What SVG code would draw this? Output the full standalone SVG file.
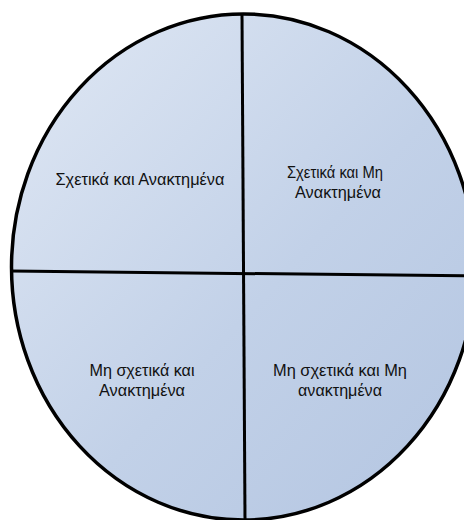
<svg xmlns="http://www.w3.org/2000/svg" width="464" height="520" viewBox="0 0 464 520">
  <defs>
    <linearGradient id="g" x1="0" y1="0" x2="1" y2="1">
      <stop offset="0" stop-color="#e0e8f4"/>
      <stop offset="0.55" stop-color="#c2d1e8"/>
      <stop offset="1" stop-color="#b3c5e1"/>
    </linearGradient>
  </defs>
  <style>
    .t { font-family: "Liberation Sans", Arial, sans-serif; font-size: 16.5px; fill: #111; text-anchor: middle; }
    .ln { stroke: #000; stroke-width: 3; fill: none; }
  </style>
  <rect width="464" height="520" fill="#fff"/>
  <g id="circle">
    <ellipse cx="243.5" cy="267" rx="232" ry="253" fill="url(#g)" stroke="#000" stroke-width="3.5"/>
  </g>
  <g id="connectors">
    <line class="ln" x1="242" y1="14" x2="245" y2="520"/>
    <line class="ln" x1="11" y1="271" x2="476" y2="276"/>
  </g>
  <g id="q1">
    <text class="t" x="140" y="185" textLength="169" lengthAdjust="spacingAndGlyphs">Σχετικά και Ανακτημένα</text>
  </g>
  <g id="q2">
    <text class="t" x="335" y="177.5" textLength="96" lengthAdjust="spacingAndGlyphs">Σχετικά και Μη</text>
    <text class="t" x="338" y="197.5" textLength="86" lengthAdjust="spacingAndGlyphs">Ανακτημένα</text>
  </g>
  <g id="q3">
    <text class="t" x="142" y="375.5" textLength="105" lengthAdjust="spacingAndGlyphs">Μη σχετικά και</text>
    <text class="t" x="142" y="396" textLength="86" lengthAdjust="spacingAndGlyphs">Ανακτημένα</text>
  </g>
  <g id="q4">
    <text class="t" x="340" y="375.5" textLength="134" lengthAdjust="spacingAndGlyphs">Μη σχετικά και Μη</text>
    <text class="t" x="340" y="396" textLength="84" lengthAdjust="spacingAndGlyphs">ανακτημένα</text>
  </g>
</svg>
